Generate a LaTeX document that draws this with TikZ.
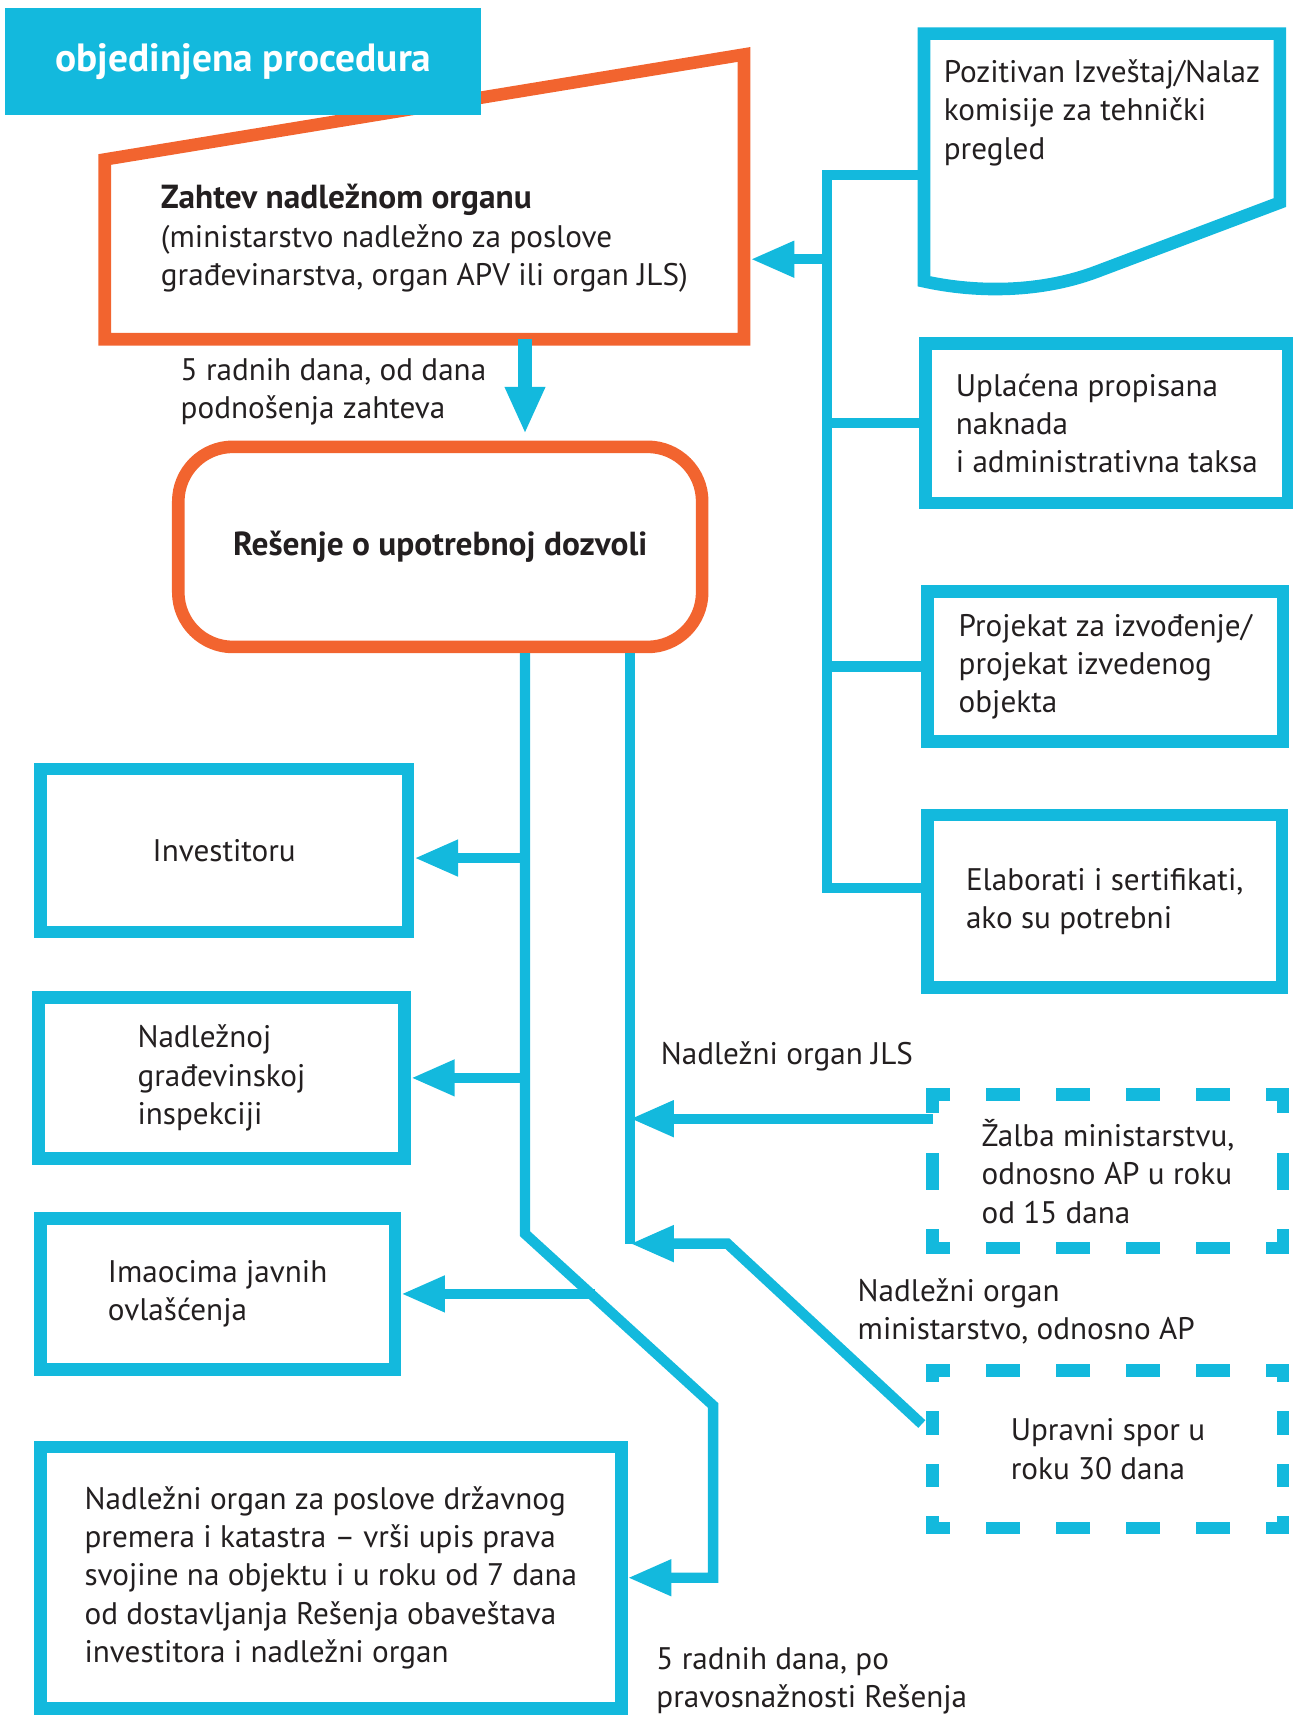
\documentclass[tikz,border=0pt]{standalone}
\usepackage{fontspec}
\setmainfont{PT Sans}
\usetikzlibrary{arrows.meta,calc,positioning}

\definecolor{ozblue}{HTML}{13B9DD}
\definecolor{ozorange}{HTML}{F2642F}
\definecolor{ink}{HTML}{231F20}

\newcommand{\boxfont}{\fontsize{28.5}{35}\selectfont}
\newcommand{\boldfont}{\fontsize{30.5}{35}\selectfont\bfseries}

\tikzset{
  bluebox/.style={draw=ozblue, line width=11.5pt, fill=white, inner sep=0pt, align=left, text=ink, font=\boxfont},
  plainbox/.style={inner sep=0pt, align=left, text=ink, font=\boxfont},
  conn/.style={draw=ozblue, line width=9.5pt},
  arr/.style={conn, -{Triangle[length=40pt,width=31pt]}},
  lbl/.style={inner sep=0pt, align=left, anchor=west, text=ink, font=\boxfont},
  dashH/.style={draw=ozblue, line width=11.5pt, line cap=rect, dash pattern=on 20pt off 44pt, dash phase=10pt},
  dashVz/.style={draw=ozblue, line width=11.5pt, line cap=rect, dash pattern=on 22pt off 48pt, dash phase=11pt},
  dashVu/.style={draw=ozblue, line width=11.5pt, line cap=rect, dash pattern=on 10pt off 38pt, dash phase=5pt}
}

\begin{document}
\begin{tikzpicture}[x=1pt,y=-1pt]
    \useasboundingbox (0,0) rectangle (1182,1568);

    % Request and decision
    \node[plainbox, minimum width=584, minimum height=184] (zahtev) at (388,218)
        {{\boldfont Zahtev nadležnom organu}\\(ministarstvo nadležno za poslove\\građevinarstva, organ APV ili organ JLS)};
    \draw[ozorange, line width=11.5pt] (zahtev.south west) -- (zahtev.south east)
        -- ($(zahtev.north east)+(0,-76)$) -- ($(zahtev.north west)+(0,20)$) -- cycle;
    \node[fill=ozblue, text=white, inner sep=0pt, minimum width=435, minimum height=98,
        font=\fontsize{36}{40}\selectfont\bfseries] (head) at (222.5,56) {objedinjena procedura};
    \node[draw=ozorange, line width=11.5pt, rounded corners=50pt, fill=white, text=ink,
        minimum width=479, minimum height=183, font=\boldfont] (resenje) at (402.5,500)
        {Rešenje o upotrebnoj dozvoli};

    % Attachments
    \node[plainbox, minimum width=325, minimum height=140] (pozitiv) at (1007.5,103)
        {Pozitivan Izveštaj/Nalaz\\komisije za tehnički\\pregled};
    \draw[ozblue, line width=11.5pt] ($(pozitiv.south west)+(0,84)$) -- ($(pozitiv.north west)+(0,-2)$)
        -- ($(pozitiv.north east)+(0,-2)$) -- ($(pozitiv.south east)+(0,12)$)
        -- ($(pozitiv.south east)+(-167,75)$)
        .. controls ($(pozitiv.south east)+(-217,94)$) and ($(pozitiv.south west)+(50,95)$)
        .. ($(pozitiv.south west)+(0,84)$) -- cycle;
    \node[bluebox, minimum width=332, minimum height=146] (uplac) at (1012,387)
        {Uplaćena propisana\\naknada\\i administrativna taksa};
    \node[bluebox, minimum width=325, minimum height=137] (projekat) at (1010.5,609.5)
        {Projekat za izvođenje/\\projekat izvedenog\\objekta};
    \node[bluebox, minimum width=324, minimum height=158] (elab) at (1010,824)
        {Elaborati i sertifikati,\\ako su potrebni};

    % Recipients
    \node[bluebox, align=center, minimum width=336, minimum height=149] (inv) at (205,777.5) {Investitoru};
    \node[bluebox, minimum width=335, minimum height=147] (nadinsp) at (202.5,985.5)
        {Nadležnoj\\građevinskoj\\inspekciji};
    \node[bluebox, minimum width=324, minimum height=138] (imaoc) at (199,1183)
        {Imaocima javnih\\ovlašćenja};
    \node[bluebox, minimum width=531, minimum height=239] (katast) at (302.5,1442.5)
        {Nadležni organ za poslove državnog\\premera i katastra – vrši upis prava\\svojine na objektu i u roku od 7 dana\\od dostavljanja Rešenja obaveštava\\investitora i nadležni organ};

    % Legal remedies
    \node[plainbox, minimum width=320, minimum height=140] (zalba) at (1013,1071)
        {Žalba ministarstvu,\\odnosno AP u roku\\od 15 dana};
    \draw[dashH] (zalba.north west) -- (zalba.north east);
    \draw[dashH] (zalba.south west) -- (zalba.south east);
    \draw[dashVz] (zalba.north west) -- (zalba.south west);
    \draw[dashVz] (zalba.north east) -- (zalba.south east);
    \node[plainbox, minimum width=320, minimum height=144] (upravni) at (1013,1325)
        {Upravni spor u\\roku 30 dana};
    \draw[dashH] (upravni.north west) -- (upravni.north east);
    \draw[dashH] (upravni.south west) -- (upravni.south east);
    \draw[dashVu] (upravni.north west) -- (upravni.south west);
    \draw[dashVu] (upravni.north east) -- (upravni.south east);

    % Labels
    \node[lbl] (rok1) at (165,358.5) {5 radnih dana, od dana\\podnošenja zahteva};
    \node[lbl] (jls) at (604,966) {Nadležni organ JLS};
    \node[lbl] (minap) at (784,1199) {Nadležni organ\\ministarstvo, odnosno AP};
    \node[lbl] (rok2) at (600,1537) {5 radnih dana, po\\pravosnažnosti Rešenja};

    % Connectors
    \coordinate (spine) at (756,160);
    \coordinate (bendA) at (480,1128);
    \coordinate (bendA2) at (652,1285);
    \coordinate (diagA) at ($(bendA)!0.37!(bendA2)$);
    \coordinate (bendB) at (576,1137);
    \coordinate (kneeB) at (665,1137);

    \draw[conn, -{Triangle[length=43pt,width=34pt]}, line width=12pt, shorten >=6pt]
        (zahtev.south -| bendA) -- (resenje.north -| bendA);
    \draw[conn] (pozitiv.west |- spine) -- (spine) -- ($(spine |- elab.west)+(0,-12)$)
        -- ($(elab.west)+(0,-12)$);
    \draw[conn] (spine |- uplac.west) -- (uplac.west);
    \draw[conn] (spine |- projekat.west) -- (projekat.west);
    \draw[arr] ($(spine |- zahtev.east)+(0,19)$) -- ($(zahtev.east)+(6,19)$);

    \draw[arr] (resenje.south -| bendA) -- (bendA) -- (bendA2) -- (bendA2 |- katast.east) -- (katast.east);
    \draw[arr] ($(bendA |- inv.east)+(0,7)$) -- ($(inv.east)+(0,7)$);
    \draw[arr] (bendA |- nadinsp.east) -- (nadinsp.east);
    \draw[arr] (diagA |- imaoc.east) -- (imaoc.east);

    \draw[conn] (resenje.south -| bendB) -- (bendB);
    \draw[arr] ($(zalba.north west)+(0,22)$) -- ($(zalba.north west -| bendB)+(0,22)$);
    \draw[arr] ($(upravni.west)+(-10,-23)$) -- (kneeB) -- (bendB);
\end{tikzpicture}
\end{document}
